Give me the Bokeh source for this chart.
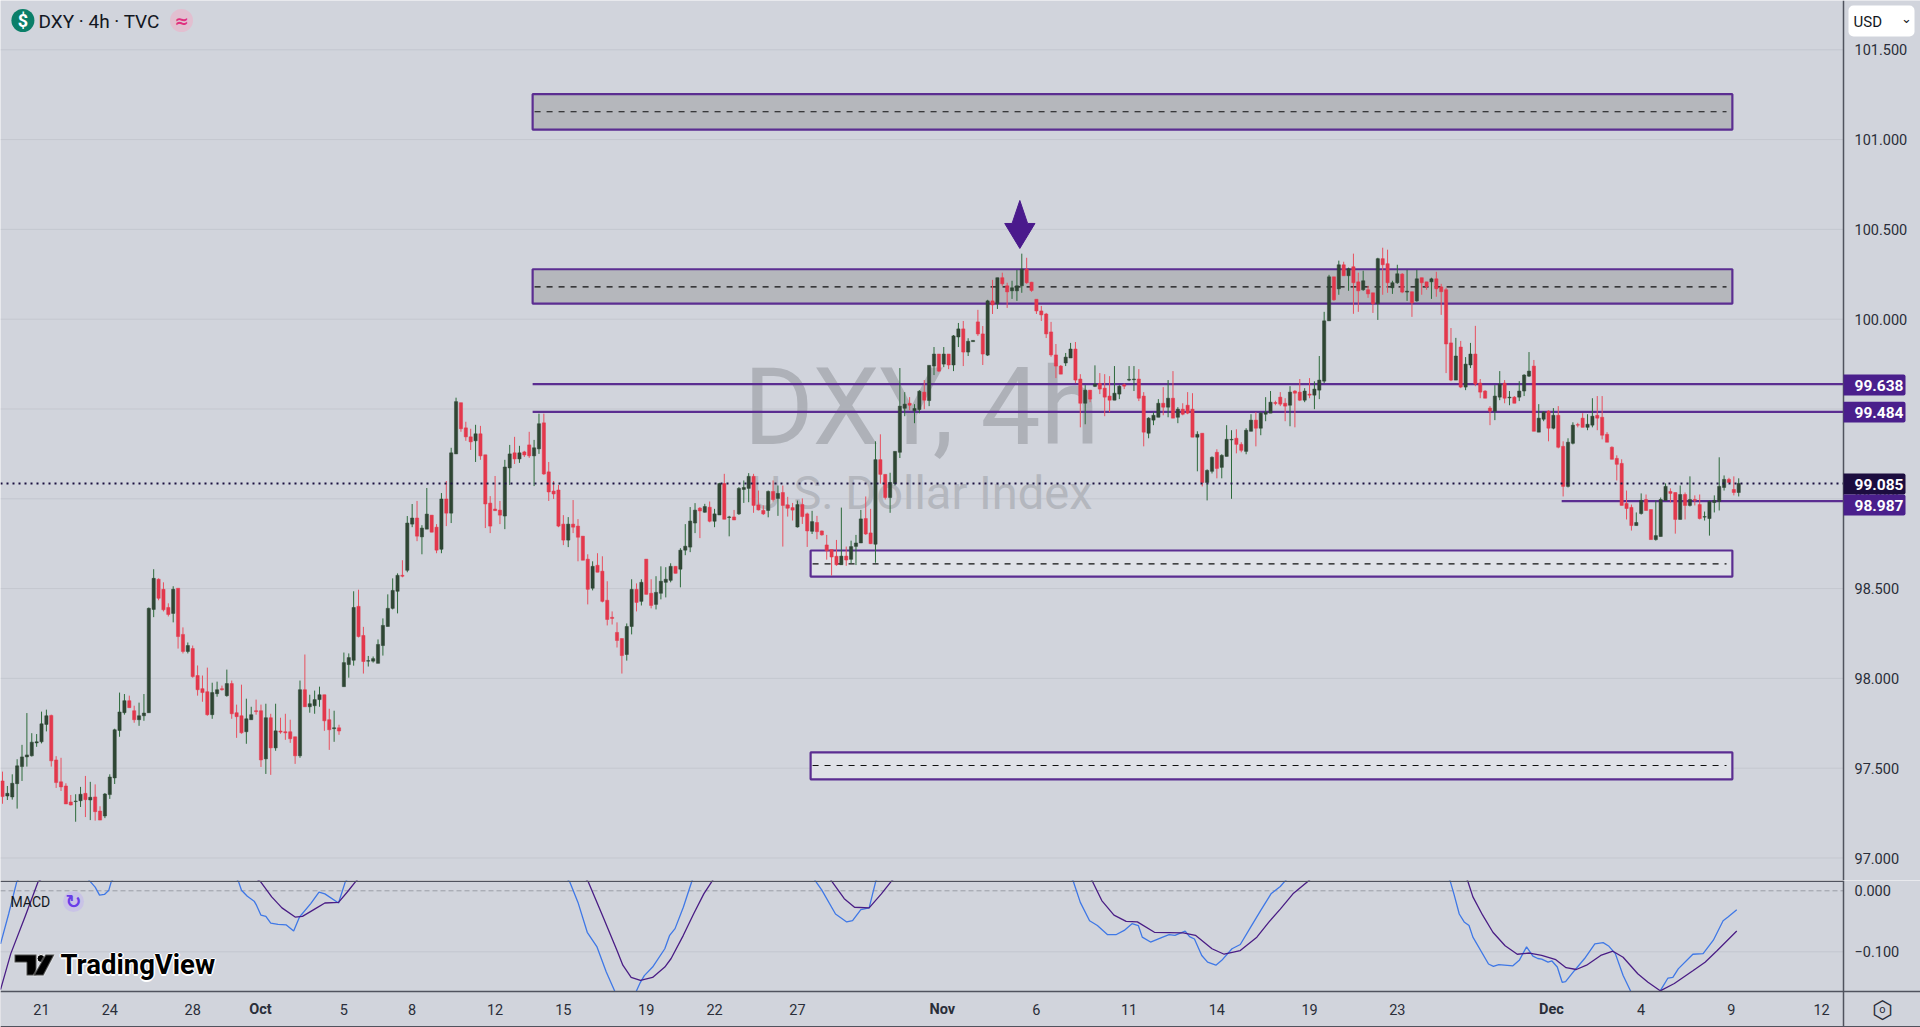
from bokeh.embed import file_html
from bokeh.resources import INLINE
from bokeh.plotting import figure
from bokeh.layouts import column
from bokeh.models import (Range1d, LinearAxis, FixedTicker, NumeralTickFormatter, Label,
                          BoxAnnotation, PolyAnnotation, ColumnDataSource)

opens = [97.429,97.345,97.340,97.414,97.509,97.563,97.569,97.641,97.647,97.744,
97.794,97.546,97.424,97.401,97.312,97.314,97.319,97.360,97.323,97.340,
97.261,97.234,97.353,97.446,97.710,97.809,97.876,97.820,97.770,97.792,
97.809,98.384,98.552,98.496,98.395,98.362,98.502,98.245,98.150,98.166,
98.016,97.943,97.926,97.798,97.915,97.943,97.904,97.971,97.809,97.792,
97.703,97.770,97.820,97.820,97.552,97.781,97.613,97.707,97.703,97.703,
97.675,97.569,97.937,97.842,97.848,97.882,97.909,97.770,97.720,97.725,
97.954,98.077,98.101,98.401,98.239,98.096,98.096,98.084,98.183,98.289,
98.390,98.485,98.574,98.602,98.859,98.893,98.788,98.831,98.909,98.842,
98.719,98.999,98.920,99.250,99.535,99.395,99.345,99.323,99.362,99.245,
98.976,98.943,98.937,98.904,99.172,99.256,99.222,99.261,99.300,99.239,
99.278,99.423,99.150,99.043,99.049,98.859,98.770,98.859,98.848,98.792,
98.664,98.502,98.630,98.597,98.435,98.340,98.256,98.222,98.133,98.289,
98.496,98.429,98.664,98.474,98.412,98.474,98.535,98.546,98.624,98.608,
98.714,98.731,98.865,98.948,98.925,98.953,98.875,98.910,99.085,98.896,
98.899,98.916,99.052,99.058,99.125,98.966,98.935,98.935,99.041,99.002,
99.035,98.966,98.951,98.843,98.968,98.916,98.819,98.868,98.821,98.743,
98.717,98.680,98.633,98.681,98.663,98.735,98.754,98.890,98.810,98.747,
99.218,99.136,99.007,99.085,99.259,99.504,99.532,99.490,99.497,99.594,
99.547,99.739,99.806,99.750,99.806,99.745,99.901,99.946,99.817,99.875,
99.985,99.918,99.800,100.102,100.085,100.231,100.186,100.158,100.158,100.186,
100.279,100.206,100.111,100.046,100.029,99.929,99.801,99.739,99.756,99.784,
99.834,99.667,99.532,99.605,99.626,99.642,99.616,99.572,99.549,99.583,
99.635,99.661,99.663,99.667,99.572,99.365,99.438,99.454,99.532,99.510,
99.560,99.454,99.499,99.521,99.499,99.343,99.365,99.091,99.153,99.259,
99.175,99.236,99.328,99.337,99.303,99.264,99.376,99.438,99.393,99.471,
99.477,99.536,99.566,99.532,99.521,99.600,99.594,99.549,99.583,99.577,
99.605,99.655,99.991,100.236,100.169,100.303,100.242,100.292,100.208,100.164,
100.164,100.147,100.086,100.337,100.309,100.175,100.203,100.251,100.151,100.153,
100.102,100.231,100.208,100.208,100.225,100.180,100.164,99.868,99.661,99.845,
99.622,99.745,99.806,99.644,99.600,99.505,99.488,99.566,99.644,99.562,
99.566,99.566,99.600,99.683,99.739,99.371,99.443,99.488,99.393,99.465,
99.292,99.069,99.309,99.413,99.449,99.398,99.410,99.465,99.454,99.359,
99.287,99.225,99.197,98.974,98.952,98.851,98.918,98.996,98.940,98.773,
98.790,98.991,99.041,99.035,98.885,99.024,98.963,98.996,98.968,98.898,
98.890,98.979,98.985,99.063,99.108,99.052,99.035]

closes = [97.342,97.360,97.416,97.513,97.563,97.574,97.645,97.647,97.747,97.792,
97.541,97.420,97.396,97.301,97.295,97.317,97.355,97.325,97.338,97.258,
97.211,97.356,97.451,97.714,97.813,97.876,97.837,97.770,97.792,97.807,
98.390,98.557,98.446,98.382,98.356,98.496,98.233,98.150,98.183,98.010,
97.937,97.921,97.798,97.921,97.937,97.937,97.971,97.803,97.787,97.697,
97.775,97.798,97.815,97.546,97.781,97.613,97.708,97.701,97.697,97.664,
97.569,97.937,97.842,97.859,97.882,97.909,97.764,97.714,97.725,97.707,
98.088,98.116,98.395,98.233,98.094,98.099,98.110,98.189,98.295,98.390,
98.490,98.574,98.569,98.865,98.893,98.792,98.837,98.915,98.814,98.714,
98.999,98.920,99.256,99.541,99.390,99.345,99.317,99.362,99.239,98.971,
98.848,98.934,98.909,99.177,99.250,99.222,99.256,99.244,99.239,99.284,
99.418,99.138,99.038,99.027,98.848,98.770,98.859,98.842,98.786,98.658,
98.496,98.624,98.591,98.429,98.328,98.334,98.211,98.127,98.289,98.496,
98.423,98.535,98.468,98.406,98.479,98.541,98.552,98.624,98.585,98.714,
98.736,98.876,98.937,98.932,98.957,98.875,98.916,99.085,98.886,98.899,
98.882,99.058,99.063,99.125,98.963,98.938,98.916,99.041,98.996,99.030,
98.963,98.948,98.937,98.968,98.901,98.821,98.873,98.817,98.799,98.711,
98.676,98.633,98.681,98.659,98.734,98.754,98.888,98.804,98.750,99.218,
99.136,99.007,99.091,99.264,99.516,99.527,99.521,99.503,99.599,99.549,
99.743,99.806,99.711,99.806,99.745,99.907,99.946,99.817,99.877,99.882,
99.918,99.806,100.102,100.080,100.231,100.197,100.152,100.175,100.186,100.279,
100.203,100.160,100.046,100.024,99.918,99.801,99.739,99.694,99.789,99.834,
99.661,99.532,99.605,99.555,99.639,99.611,99.566,99.549,99.588,99.627,
99.627,99.665,99.667,99.560,99.371,99.449,99.465,99.532,99.510,99.560,
99.449,99.499,99.471,99.477,99.343,99.359,99.091,99.158,99.231,99.169,
99.242,99.331,99.331,99.303,99.270,99.382,99.438,99.393,99.477,99.482,
99.538,99.531,99.527,99.516,99.594,99.588,99.549,99.600,99.577,99.611,
99.661,99.991,100.236,100.108,100.303,100.242,100.281,100.203,100.158,100.214,
100.141,100.086,100.337,100.303,100.203,100.203,100.253,100.151,100.156,100.091,
100.225,100.203,100.180,100.225,100.169,100.153,99.862,99.661,99.795,99.622,
99.750,99.806,99.639,99.594,99.560,99.488,99.572,99.639,99.560,99.566,
99.532,99.600,99.689,99.711,99.376,99.449,99.482,99.393,99.465,99.287,
99.069,99.315,99.410,99.410,99.398,99.415,99.460,99.449,99.354,99.315,
99.220,99.192,98.963,98.946,98.851,98.868,98.991,98.935,98.773,98.795,
98.996,99.069,99.030,98.885,99.024,98.963,98.996,98.991,98.890,98.901,
98.985,98.991,99.069,99.108,99.091,99.035,99.086]

highs = [97.481,97.401,97.466,97.550,97.630,97.807,97.695,97.690,97.815,97.826,
97.798,97.567,97.558,97.416,97.351,97.355,97.396,97.457,97.424,97.410,
97.288,97.362,97.466,97.720,97.921,97.913,97.904,97.848,97.865,97.913,
98.395,98.608,98.557,98.535,98.418,98.513,98.502,98.284,98.200,98.183,
98.072,98.016,98.060,97.976,97.982,97.960,98.049,97.988,97.854,97.965,
97.887,97.842,97.882,97.854,97.859,97.803,97.859,97.781,97.803,97.770,
97.675,97.988,98.133,97.909,97.932,97.954,97.909,97.831,97.820,97.742,
98.144,98.139,98.485,98.494,98.287,98.125,98.122,98.217,98.334,98.468,
98.557,98.585,98.658,98.904,98.971,98.988,98.853,99.060,98.909,98.859,
99.032,99.099,99.284,99.563,99.535,99.429,99.390,99.412,99.406,99.245,
99.015,99.127,98.988,99.217,99.300,99.345,99.295,99.267,99.373,99.328,
99.474,99.474,99.205,99.099,99.077,98.909,98.898,98.993,98.887,98.792,
98.691,98.652,98.697,98.680,98.541,98.373,98.312,98.222,98.306,98.552,
98.529,98.552,98.664,98.552,98.569,98.624,98.619,98.641,98.624,98.725,
98.859,98.954,98.976,98.954,98.972,98.985,98.944,99.089,99.139,98.905,
98.938,99.065,99.102,99.143,99.139,99.046,98.963,99.046,99.102,99.074,
99.074,99.011,98.977,98.990,99.002,98.923,98.933,98.905,98.823,98.799,
98.717,98.771,98.951,98.734,98.767,98.799,98.938,99.013,98.944,99.320,
99.359,99.136,99.145,99.264,99.728,99.594,99.566,99.527,99.605,99.661,
99.743,99.845,99.806,99.845,99.806,99.912,99.979,99.990,99.894,99.882,
100.052,99.962,100.108,100.219,100.231,100.259,100.203,100.214,100.275,100.365,
100.342,100.208,100.111,100.074,100.035,99.985,99.862,99.745,99.812,99.868,
99.873,99.694,99.633,99.605,99.743,99.700,99.694,99.683,99.739,99.633,
99.642,99.739,99.739,99.722,99.594,99.454,99.482,99.555,99.622,99.661,
99.711,99.510,99.532,99.594,99.588,99.376,99.365,99.164,99.236,99.276,
99.248,99.410,99.382,99.387,99.315,99.393,99.471,99.482,99.482,99.566,
99.600,99.546,99.594,99.560,99.627,99.605,99.667,99.616,99.672,99.654,
99.795,100.041,100.247,100.236,100.326,100.320,100.287,100.365,100.259,100.270,
100.186,100.147,100.342,100.398,100.387,100.214,100.303,100.257,100.275,100.153,
100.275,100.231,100.208,100.231,100.264,100.197,100.175,99.951,99.896,99.879,
99.789,99.868,99.963,99.667,99.605,99.516,99.633,99.711,99.661,99.600,
99.572,99.655,99.694,99.817,99.773,99.527,99.488,99.493,99.505,99.516,
99.320,99.337,99.426,99.423,99.477,99.471,99.560,99.572,99.572,99.371,
99.292,99.242,99.220,99.046,98.968,98.924,99.030,99.024,98.940,98.991,
99.007,99.086,99.058,99.035,99.074,99.035,99.125,99.019,99.024,98.929,
98.991,99.019,99.231,99.130,99.117,99.125,99.114]

lows = [97.302,97.323,97.325,97.275,97.429,97.509,97.565,97.619,97.638,97.705,
97.509,97.390,97.373,97.301,97.293,97.202,97.284,97.228,97.211,97.208,
97.211,97.222,97.329,97.412,97.675,97.798,97.837,97.753,97.736,97.764,
97.809,98.341,98.435,98.373,98.345,98.312,98.166,98.139,98.139,98.004,
97.904,97.870,97.792,97.775,97.898,97.932,97.898,97.775,97.669,97.692,
97.636,97.770,97.798,97.507,97.468,97.463,97.597,97.692,97.658,97.641,
97.524,97.558,97.842,97.809,97.803,97.842,97.708,97.602,97.647,97.686,
97.954,98.004,98.071,98.228,98.027,98.066,98.088,98.084,98.127,98.289,
98.384,98.362,98.563,98.591,98.842,98.764,98.691,98.831,98.814,98.697,
98.697,98.848,98.865,99.250,99.373,99.323,99.272,99.205,99.217,98.837,
98.809,98.932,98.859,98.831,99.077,99.194,99.200,99.233,99.228,99.071,
99.250,99.133,98.988,98.999,98.842,98.742,98.731,98.809,98.652,98.658,
98.412,98.490,98.591,98.423,98.295,98.300,98.172,98.027,98.099,98.245,
98.373,98.406,98.468,98.390,98.384,98.440,98.451,98.535,98.585,98.507,
98.686,98.703,98.809,98.781,98.923,98.869,98.842,98.910,98.886,98.791,
98.882,98.910,98.977,98.981,98.922,98.935,98.910,98.897,98.985,98.905,
98.734,98.901,98.879,98.840,98.860,98.732,98.804,98.775,98.795,98.661,
98.572,98.627,98.633,98.627,98.640,98.631,98.754,98.799,98.748,98.644,
99.084,98.996,98.922,99.074,99.227,99.460,99.493,99.421,99.476,99.499,
99.516,99.689,99.706,99.733,99.722,99.711,99.845,99.739,99.795,99.875,
99.907,99.745,99.795,100.029,100.057,100.186,100.063,100.113,100.102,100.147,
100.197,100.152,100.029,99.990,99.895,99.791,99.672,99.694,99.739,99.784,
99.644,99.398,99.415,99.538,99.622,99.583,99.460,99.482,99.549,99.555,
99.611,99.655,99.600,99.544,99.292,99.337,99.410,99.454,99.465,99.454,
99.449,99.421,99.465,99.471,99.343,99.153,99.069,98.991,99.141,99.114,
99.114,99.236,99.000,99.253,99.259,99.248,99.376,99.292,99.354,99.432,
99.477,99.521,99.516,99.432,99.404,99.398,99.544,99.538,99.560,99.499,
99.555,99.644,99.991,100.102,100.136,100.242,100.158,100.030,100.041,100.158,
100.119,100.035,99.996,100.136,100.147,100.141,100.197,100.145,100.102,100.013,
100.097,100.136,100.164,100.113,100.125,100.024,99.700,99.655,99.661,99.616,
99.605,99.728,99.627,99.560,99.560,99.410,99.438,99.549,99.532,99.521,
99.532,99.544,99.572,99.678,99.376,99.371,99.432,99.320,99.387,99.281,
99.013,99.063,99.303,99.398,99.398,99.382,99.398,99.382,99.331,99.315,
99.220,99.102,98.963,98.885,98.823,98.851,98.912,98.935,98.773,98.767,
98.790,98.991,98.979,98.806,98.885,98.885,98.957,98.963,98.885,98.879,
98.795,98.924,98.935,99.046,99.091,99.019,99.013]

macd_bars = [-0.4,1.26,2.93,10,18,19,19.9,20.9,21.8,22.3,35.6,48.4,49,50.2,51.6,52.1,53,54,55,56.5,58.2,59.7,60.9,63.2,64.9,66.1,68.9,70.3,91.6,
116.3,118,119.9,121.9,123.8,125.5,127.6,130,130.8,131.6,133.3,135.8,136.8,137.9,139.6,141.4,154.2,166.6,168,170.8,173.1,174.3,176,177.7,179.1,199.4,
219.5,221,222.9,224.5,226.6,228.3,230,231.6,232.9,233.7,235.4,237.9,239.2,240.4,242.5,243.4,244.4,245.9,247.1,248.8,250,252.1,253.8,255.9,258,260.1,262,263.1,279.6,
296.8,297.6,298.7,299.7,300.7,301.5,304.7,305.7,306.8,309.7,311,312.5,313.8,314.8,315.6,316.9,317.7,318.8,319.8,320.5,322.3,324.4,326.5,328.2,329.4,330.7,332.3,333.8,336.9,
339.9,341.5,342.5,343.6,346.6,348.7,350.8,352.8,353.8,355.6]
macd_values = [-.087,-.038,.015,.08,.015,.006,-.007,-.006,.001,.015,.14,.015,.001,-.009,-.017,-.024,-.040,-.042,-.053,-.055,-.056,-.066,-.043,-.021,-.002,-.005,-.020,.015,.20,
.015,-.019,-.068,-.092,-.133,-.164,-.185,-.164,-.150,-.139,-.125,-.095,-.073,-.062,-.027,.017,.13,.017,.001,-.038,-.051,-.049,-.031,-.028,.017,.13,
.017,-.019,-.049,-.057,-.072,-.072,-.065,-.054,-.057,-.076,-.084,-.076,-.072,-.073,-.066,-.075,-.079,-.106,-.117,-.122,-.114,-.095,-.088,-.060,-.032,-.005,.007,.017,.13,
.017,-.005,-.038,-.051,-.057,-.076,-.120,-.124,-.121,-.123,-.114,-.092,-.107,-.111,-.112,-.117,-.115,-.125,-.150,-.149,-.131,-.111,-.087,-.085,-.091,-.103,-.139,-.164,-.191,
-.164,-.143,-.142,-.128,-.104,-.103,-.081,-.049,-.043,-.031]
signal_bars = [-0.4,1.7,4.6,7.3,28.9,52.9,55.2,57.3,60,61.5,64,66.1,68.9,70.7,72.4,95.8,120.1,123,126,127.2,128.9,130.8,133.3,135.8,137.1,139.6,141.7,143.8,145.6,157.6,
169.9,172.6,174.7,177.7,180.2,182.4,202.8,223.4,225.4,227.9,230.4,232.7,236.2,242.1,244.6,248,250.5,253.8,257.2,259.7,262,264.6,267.9,283.8,
300.4,301.5,303.5,305.6,308.1,310.6,313.1,315.6,318.5,320.6,322.7,324.8,327.7,330.2,332.3,335.3,337.4,339.9,342.8,346.6,349.1,351.6,355.6]
signal_values = [-.162,-.103,-.043,.015,.14,.015,-.010,-.028,-.043,-.042,-.030,-.020,-.019,-.002,.015,.20,.015,-.040,-.098,-.122,-.142,-.147,-.142,-.125,-.111,-.073,-.038,-.005,.017,.13,
.017,-.013,-.027,-.028,-.005,.017,.13,.017,-.016,-.040,-.050,-.051,-.068,-.069,-.073,-.095,-.104,-.098,-.076,-.051,-.030,-.005,.017,.13,
.017,-.010,-.040,-.068,-.090,-.104,-.102,-.106,-.113,-.126,-.129,-.122,-.106,-.099,-.109,-.136,-.150,-.164,-.152,-.131,-.117,-.098,-.066]

zone_left = [108.7, 108.7, 165.7, 165.7]
zone_right = [354.7, 354.7, 354.7, 354.7]
zone_top = [101.253, 100.278, 98.712, 97.588]
zone_bottom = [101.056, 100.087, 98.567, 97.438]
zone_mid = [101.155, 100.180, 98.638, 97.515]
zone_fill = ["#b5b7bc", "#b5b7bc", "#dfe1e7", "#dfe1e7"]

level_prices = [99.638, 99.484, 98.987]
level_starts = [108.7, 108.7, 319.7]
last_price = 99.085

price_ticks = [101.5, 101.0, 100.5, 100.0, 99.5, 99.0, 98.5, 98.0, 97.5, 97.0]
tick_bars = [8, 22, 39, 70, 84, 101, 115, 132, 146, 163, 212, 231, 249, 268, 286, 336, 354.5, 373]
tick_texts = ["21", "24", "28", "5", "8", "12", "15", "19", "22", "27", "6", "11", "14", "19", "23", "4", "9", "12"]
month_bars = [52.9, 192.7, 317.6]
month_texts = ["Oct", "Nov", "Dec"]

BG = "#d1d4dc"
GRID = "#c4c7cf"
AXIS = "#50535e"
TXT = "#2a2e39"
PURPLE = "#5b2d91"
FONT = "Roboto"
BAR_PX, BAR_ORIGIN = 4.877, 2.0
PX_PER_UNIT, Y_101_5 = 179.6, 49.3


def bx(px):
    return (px - BAR_ORIGIN) / BAR_PX


def py(px):
    return 101.5 - (px - Y_101_5) / PX_PER_UNIT


def my(px):
    return -(px - 890.3) / 610.0


x_range = Range1d(bx(0), bx(1920))
PANE_RIGHT = bx(1843)

main = figure(width=1920, height=880, output_backend="svg", toolbar_location=None, x_range=x_range,
              y_range=Range1d(py(880), py(0)), x_axis_location=None, y_axis_location=None,
              min_border=0, background_fill_color=BG, border_fill_color=BG, outline_line_color=None)
main.xgrid.visible = False
main.ygrid.visible = False
axis = LinearAxis(ticker=FixedTicker(ticks=price_ticks), formatter=NumeralTickFormatter(format="0.000"),
                  fixed_location=PANE_RIGHT, major_tick_line_color=None, minor_tick_line_color=None,
                  axis_line_color=AXIS, axis_line_width=1.5, major_label_standoff=5, major_label_text_font=FONT,
                  major_label_text_font_size="14.5px", major_label_text_color=TXT)
main.add_layout(axis, "right")
main.segment(x0=[bx(0)] * len(price_ticks), x1=[PANE_RIGHT] * len(price_ticks), y0=price_ticks, y1=price_ticks,
             line_color=GRID, line_width=1, level="underlay")

main.add_layout(Label(x=bx(921), y=py(407), text="DXY, 4h", text_font=FONT, text_font_size="107px",
                      text_color="#aeb1b8", text_align="center", text_baseline="middle", level="underlay"))
main.add_layout(Label(x=bx(921), y=py(492), text="U.S. Dollar Index", text_font=FONT, text_font_size="47px",
                      text_color="#b4b7be", text_align="center", text_baseline="middle", level="underlay"))

main.quad(left=zone_left, right=zone_right, top=zone_top, bottom=zone_bottom, fill_color=zone_fill,
          line_color=PURPLE, line_width=2.2)
main.segment(x0=[v + 0.4 for v in zone_left], x1=[v - 1.2 for v in zone_right], y0=zone_mid, y1=zone_mid,
             line_color="#111111", line_width=1.2, line_dash="6 6")
main.segment(x0=level_starts, x1=[PANE_RIGHT] * 3, y0=level_prices, y1=level_prices, line_color=PURPLE, line_width=2.2)

bars = list(range(len(closes)))
colors_body = ["#2f4634" if c >= o else "#e3384c" for o, c in zip(opens, closes)]
colors_wick = ["#2d6a3b" if c >= o else "#e8505f" for o, c in zip(opens, closes)]
src = ColumnDataSource(dict(x=bars, o=opens, c=closes, h=highs, l=lows, body=colors_body, wick=colors_wick))
main.segment(x0="x", x1="x", y0="l", y1="h", line_color="wick", line_width=1, source=src)
main.vbar(x="x", width=0.66, top="o", bottom="c", fill_color="body", line_color="body", line_width=0.5, source=src)

main.segment(x0=[bx(0)], x1=[PANE_RIGHT], y0=[last_price], y1=[last_price], line_color="#1b1040", line_width=2,
             line_dash="2 4")

arrow_x = [208.6, 210.2, 211.7, 208.6, 205.5, 207.0]
arrow_y = [100.661, 100.533, 100.533, 100.394, 100.533, 100.533]
main.patch(arrow_x, arrow_y, fill_color="#4a1a8c", line_color="#4a1a8c")

main.scatter([bx(22.4)], [py(20)], size=23, marker="circle", fill_color="#0b7f69", line_color=None)
main.scatter([bx(181)], [py(20)], size=23, marker="circle", fill_color="#e2bfd0", line_color=None)
main.add_layout(Label(x=bx(22.4), y=py(20), text="$", text_font=FONT, text_font_style="bold", text_font_size="18px",
                      text_color="#ffffff", text_align="center", text_baseline="middle"))
main.add_layout(Label(x=bx(181), y=py(20), text="≈", text_font="DejaVu Sans", text_font_style="bold", text_font_size="17px",
                      text_color="#e0307f", text_align="center", text_baseline="middle"))
main.add_layout(Label(x=bx(38), y=py(21), text="DXY · 4h · TVC", text_font=FONT, text_font_size="19px",
                      text_color="#131722", text_baseline="middle"))

main.add_layout(BoxAnnotation(left=bx(1848), right=bx(1914), top=py(5), bottom=py(36), fill_color="#ffffff",
                              fill_alpha=1, line_color=None, border_radius=5))
main.add_layout(Label(x=bx(1853), y=py(21), text="USD", text_font=FONT, text_font_size="15px", text_color="#131722",
                      text_baseline="middle"))
main.add_layout(Label(x=bx(1906), y=py(18), text="⌄", text_font="DejaVu Sans", text_font_size="13px", text_color="#131722",
                      text_align="center", text_baseline="middle"))

tags = [(99.638, 384.5, "#4a1f8c"), (99.484, 411.7, "#4a1f8c"), (99.085, 483.5, "#1c0d3f"), (98.987, 504.5, "#4a1f8c")]
for value, centre, fill in tags:
    main.add_layout(BoxAnnotation(left=bx(1843), right=bx(1905), top=py(centre - 10.4), bottom=py(centre + 10.4),
                                  fill_color=fill, fill_alpha=1, line_color=None, border_radius=(0, 2, 2, 0)))
    main.add_layout(Label(x=bx(1854), y=py(centre), text=f"{value:.3f}", text_font=FONT, text_font_style="bold",
                          text_font_size="15.5px", text_color="#ffffff", text_baseline="middle"))

macd = figure(width=1920, height=147, output_backend="svg", toolbar_location=None, x_range=x_range,
              y_range=Range1d(my(1027), my(880)), y_axis_location=None, min_border=0,
              background_fill_color=BG, border_fill_color=BG, outline_line_color=None)
macd.xgrid.visible = False
macd.ygrid.visible = False
macd.xaxis.fixed_location = my(991)
macd.xaxis.ticker = FixedTicker(ticks=tick_bars)
macd.xaxis.major_label_overrides = {t: s for t, s in zip(tick_bars, tick_texts)}
macd.xaxis.major_tick_line_color = None
macd.xaxis.minor_tick_line_color = None
macd.xaxis.axis_line_color = AXIS
macd.xaxis.axis_line_width = 1.5
macd.xaxis.major_label_standoff = 6
macd.xaxis.major_label_text_font = FONT
macd.xaxis.major_label_text_font_size = "14.5px"
macd.xaxis.major_label_text_color = TXT

maxis = LinearAxis(ticker=FixedTicker(ticks=[0, -0.1]), major_label_overrides={0: "0.000", -0.1: "−0.100"},
                   fixed_location=PANE_RIGHT, major_tick_line_color=None, minor_tick_line_color=None,
                   axis_line_color=AXIS, axis_line_width=1.5, major_label_standoff=5, major_label_text_font=FONT,
                   major_label_text_font_size="14.5px", major_label_text_color=TXT)
macd.add_layout(maxis, "right")

macd.segment(x0=[bx(0)], x1=[PANE_RIGHT], y0=[0], y1=[0], line_color="#9a9da6", line_width=1, line_dash="5 3", level="underlay")
macd.segment(x0=[bx(0)], x1=[PANE_RIGHT], y0=[-0.1], y1=[-0.1], line_color=GRID, line_width=1, level="underlay")

macd.line(macd_bars, macd_values, line_color="#3f78e6", line_width=1.3)
macd.line(signal_bars, signal_values, line_color="#4a1d85", line_width=1.3)

macd.quad(left=[bx(0)], right=[bx(1920)], top=[my(991)], bottom=[my(1027)], fill_color=BG, line_color=None)
macd.segment(x0=[bx(0)], x1=[PANE_RIGHT], y0=[my(880.7)], y1=[my(880.7)], line_color=AXIS, line_width=1.5)
macd.segment(x0=[bx(0)], x1=[bx(1920)], y0=[my(1026)], y1=[my(1026)], line_color=AXIS, line_width=1.2)

for mb, mt in zip(month_bars, month_texts):
    macd.add_layout(Label(x=mb, y=my(1009), text=mt, text_font=FONT, text_font_style="bold", text_font_size="14.5px",
                          text_color=TXT, text_align="center", text_baseline="middle"))

macd.add_layout(Label(x=bx(10), y=my(901), text="MACD", text_font=FONT, text_font_size="14px", text_color="#131722",
                      text_baseline="middle"))
macd.scatter([bx(73)], [my(901)], size=21, marker="circle", fill_color="#c9c3e6", line_color=None)
macd.add_layout(Label(x=bx(73), y=my(900), text="↻", text_font="DejaVu Sans", text_font_style="bold", text_font_size="19px",
                      text_color="#6a3de8", text_align="center", text_baseline="middle"))

logo_parts = [([14, 36, 36, 26, 26, 14], [954, 954, 975, 975, 962, 962]),
              ([45, 54, 43, 33], [954, 954, 975, 975])]
for lx, ly in logo_parts:
    macd.add_layout(PolyAnnotation(xs=[bx(v) for v in lx], ys=[my(v) for v in ly], fill_color="#000000", fill_alpha=1,
                                   line_color="#ffffff", line_width=2))
macd.scatter([bx(40.5)], [my(958)], size=8, marker="circle", fill_color="#000000", line_color="#ffffff", line_width=1)
for dx, dy in [(-1.5, 0), (1.5, 0), (0, -1.5), (0, 1.5)]:
    macd.add_layout(Label(x=bx(60 + dx), y=my(964 + dy), text="TradingView", text_font=FONT, text_font_style="bold",
                          text_font_size="27.5px", text_color="#ffffff", text_baseline="middle"))
macd.add_layout(Label(x=bx(60), y=my(964), text="TradingView", text_font=FONT, text_font_style="bold",
                      text_font_size="27.5px", text_color="#000000", text_baseline="middle"))

macd.add_layout(Label(x=bx(1882), y=my(1009), text="⬡", text_font="DejaVu Sans", text_font_size="24px", text_color="#2a2e39",
                      text_align="center", text_baseline="middle"))
macd.add_layout(Label(x=bx(1882), y=my(1009), text="o", text_font=FONT, text_font_size="11px", text_color="#2a2e39",
                      text_align="center", text_baseline="middle"))

page = column(main, macd, spacing=0)
open("out.html", "w").write(file_html(page, INLINE))
